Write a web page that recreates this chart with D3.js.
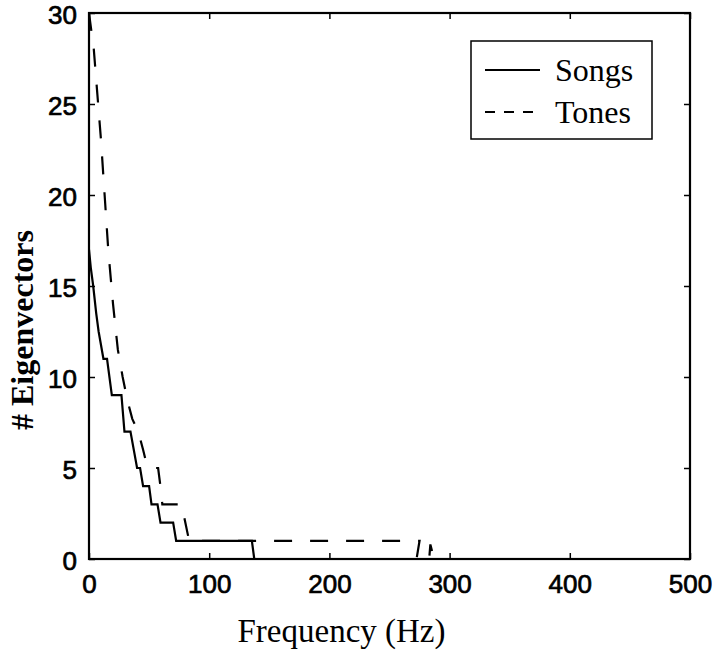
<!DOCTYPE html>
<html>
<head>
<meta charset="utf-8">
<script src="https://cdn.jsdelivr.net/npm/d3@7"></script>
<style>
  body { margin: 0; background: #fff; }
</style>
</head>
<body>
<div id="chart"></div>
<script>
// axis ticks
const xTicks = [0, 100, 200, 300, 400, 500];
const yTicks = [0, 5, 10, 15, 20, 25, 30];

// Songs (solid)
const songsFreq  = [0, 1.5, 3.5, 6, 8, 12, 15, 19, 27, 29.5, 34.5, 40, 42.5, 45, 50, 52, 57, 59.5, 70, 72.5, 135.5, 137.5, 500];
const songsCount = [17, 16, 15, 13.5, 12.5, 11, 11, 9, 9, 7, 7, 5, 5, 4, 4, 3, 3, 2, 2, 1, 1, 0, 0];

// Tones (dashed)
const tonesFreq  = [0, 4, 7, 10, 13, 16, 20, 24, 28, 32, 36, 41, 45, 48, 50, 57.5, 60, 61, 67, 77, 83.3, 275, 272.5, 283, 284, 287, 500];
const tonesCount = [30, 28, 25.5, 23, 20, 17, 14, 11.5, 10, 8.7, 7.7, 7, 6, 5.2, 5, 5, 3.7, 3, 3, 3, 1, 1, 0, 0, 0.8, 0, 0];

const legendNames = ['Songs', 'Tones'];

const width = 720, height = 666;
const margin = ({top: 13, right: 30, bottom: 107, left: 89});

const svg = d3.select('#chart').append('svg')
    .attr('width', width)
    .attr('height', height)
    .attr('viewBox', [0, 0, width, height]);

const x = d3.scaleLinear()
    .domain([0, 500])
    .range([margin.left, width - margin.right]);

const y = d3.scaleLinear()
    .domain([0, 30])
    .range([height - margin.bottom, margin.top]);

const sans = '"Liberation Sans", Arial, sans-serif';
const serif = '"Liberation Serif", "Times New Roman", serif';

// clip to plot area
svg.append('clipPath').attr('id', 'plot-clip')
  .append('rect')
    .attr('x', x(0)).attr('y', y(30))
    .attr('width', x(500) - x(0)).attr('height', y(0) - y(30));

const line = d3.line()
    .x(d => x(d[0]))
    .y(d => y(d[1]));

const songs = songsFreq.map((f, i) => [f, songsCount[i]]);
const tones = tonesFreq.map((f, i) => [f, tonesCount[i]]);

const lines = svg.append('g').attr('clip-path', 'url(#plot-clip)');

lines.append('path')
    .datum(tones)
    .attr('fill', 'none')
    .attr('stroke', '#000')
    .attr('stroke-width', 2.2)
    .attr('stroke-dasharray', '18,18')
    .attr('d', line);

lines.append('path')
    .datum(songs)
    .attr('fill', 'none')
    .attr('stroke', '#000')
    .attr('stroke-width', 2.2)
    .attr('d', line);

// tick labels a bit heavier, like the scanned figure
const styleLabels = g => g.selectAll('.tick text')
    .attr('font-family', sans)
    .attr('font-size', 26)
    .attr('fill', '#000')
    .attr('stroke', '#000')
    .attr('stroke-width', 0.7);

// axes, ticks pointing inward
const xAxis = g => g
    .attr('transform', `translate(0,${y(0)})`)
    .call(d3.axisBottom(x).tickValues(xTicks).tickSizeInner(-6).tickSizeOuter(0).tickPadding(16))
    .call(g => g.select('.domain').remove())
    .call(g => g.selectAll('.tick line').attr('stroke-width', 1.5))
    .call(styleLabels);

const yAxis = g => g
    .attr('transform', `translate(${x(0)},0)`)
    .call(d3.axisLeft(y).tickValues(yTicks).tickSizeInner(-6).tickSizeOuter(0).tickPadding(12))
    .call(g => g.select('.domain').remove())
    .call(g => g.selectAll('.tick line').attr('stroke-width', 1.5))
    .call(styleLabels)
    .call(g => g.selectAll('.tick text').attr('dy', '0.4em'));

const xTop = g => g
    .attr('transform', `translate(0,${y(30)})`)
    .call(d3.axisTop(x).tickValues(xTicks).tickSizeInner(-6).tickSizeOuter(0).tickFormat(''))
    .call(g => g.select('.domain').remove())
    .call(g => g.selectAll('.tick line').attr('stroke-width', 1.5));

const yRight = g => g
    .attr('transform', `translate(${x(500)},0)`)
    .call(d3.axisRight(y).tickValues(yTicks).tickSizeInner(-6).tickSizeOuter(0).tickFormat(''))
    .call(g => g.select('.domain').remove())
    .call(g => g.selectAll('.tick line').attr('stroke-width', 1.5));

svg.append('g').call(xAxis);
svg.append('g').call(yAxis);
svg.append('g').call(xTop);
svg.append('g').call(yRight);

// frame
svg.append('rect')
    .attr('x', x(0)).attr('y', y(30))
    .attr('width', x(500) - x(0)).attr('height', y(0) - y(30))
    .attr('fill', 'none')
    .attr('stroke', '#000')
    .attr('stroke-width', 2.2);

// axis titles
svg.append('text')
    .attr('x', (x(0) + x(500)) / 2 - 48)
    .attr('y', 642)
    .attr('text-anchor', 'middle')
    .attr('font-family', serif)
    .attr('font-size', 33)
    .text('Frequency (Hz)');

svg.append('text')
    .attr('transform', `translate(33,${(y(0) + y(30)) / 2 + 44}) rotate(-90)`)
    .attr('text-anchor', 'middle')
    .attr('font-family', serif)
    .attr('font-weight', 'bold')
    .attr('font-size', 32)
    .text('# Eigenvectors');

// legend
const legend = svg.append('g').attr('transform', 'translate(471,41)');
legend.append('rect')
    .attr('width', 181).attr('height', 98)
    .attr('fill', '#fff')
    .attr('stroke', '#000')
    .attr('stroke-width', 1.5);

const item = legend.selectAll('g')
    .data(legendNames)
    .join('g')
    .attr('transform', (d, i) => `translate(0,${29 + i * 42})`);

item.append('line')
    .attr('x1', 14).attr('x2', 69)
    .attr('stroke', '#000')
    .attr('stroke-width', 2)
    .attr('stroke-dasharray', (d, i) => i === 1 ? '10,9' : null);

item.append('text')
    .attr('x', 84)
    .attr('y', 11)
    .attr('font-family', serif)
    .attr('font-size', 32)
    .text(d => d);
</script>
</body>
</html>
